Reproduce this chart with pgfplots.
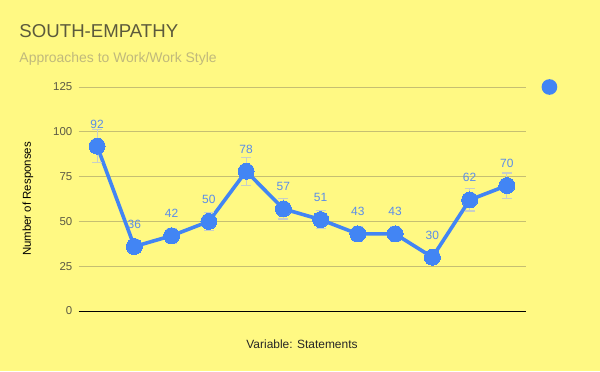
\documentclass[border=0pt]{standalone}
\usepackage{pgfplots}
\pgfplotsset{compat=1.18}
\usepackage{fontspec}
\setmainfont{Liberation Sans}
\definecolor{bgy}{HTML}{FFF983}
\definecolor{titlec}{HTML}{5C5A3C}
\definecolor{subc}{HTML}{C0B97C}
\definecolor{tickc}{HTML}{5C5A45}
\definecolor{gridc}{HTML}{C6BF72}
\definecolor{lineb}{HTML}{4285F4}
\definecolor{labb}{HTML}{5A8DEA}
\definecolor{errc}{HTML}{C8CFC8}
\begin{document}
\begin{tikzpicture}[x=1bp,y=1bp]
\fill[bgy] (0,0) rectangle (600,371);
\useasboundingbox (0,0) rectangle (600,371);
\node[anchor=base west, inner sep=0, text=titlec, font=\fontsize{18.7}{22}\selectfont] at (19.3,333.7) {SOUTH-EMPATHY};
\node[anchor=base west, inner sep=0, text=subc, font=\fontsize{14}{17}\selectfont] at (19.3,308.5) {Approaches to Work/Work Style};
\begin{axis}[
  at={(78.5bp,60bp)}, anchor=south west,
  width=447bp, height=224bp, scale only axis,
  xmin=0, xmax=12, ymin=0, ymax=125,
  axis line style={draw=none},
  xtick=\empty,
  ytick={0,25,50,75,100,125},
  ymajorgrids, grid style={gridc, line width=0.8bp},
  major tick length=0pt,
  /pgf/number format/assume math mode=true,
  yticklabel style={inner sep=0pt, xshift=-6bp, text=tickc, font=\fontsize{11.5}{13}\selectfont},
  ylabel={Number of Responses},
  every axis y label/.style={at={(rel axis cs:-0.113,0.5)}, rotate=90, anchor=center, font=\fontsize{11.5}{13}\selectfont, text=black},
  xlabel={Variable: Statements},
  every axis x label/.style={at={(rel axis cs:0.5,0)}, anchor=center, yshift=-33bp, font=\fontsize{12}{14}\selectfont, text=black!85},
  clip=false,
  legend style={at={(rel axis cs:1.058,1)}, anchor=center, draw=none, fill=none, inner sep=0pt},
  legend image code/.code={\fill[lineb] (0bp,0bp) circle (6bp);},
]
\draw[black, line width=1bp] (axis cs:0,0) -- (axis cs:12,0);
\addplot[lineb, line width=3.6bp, mark=*, mark size=8bp, mark options={fill=lineb, draw=lineb, line width=0pt},
  error bars/.cd, y dir=both, y explicit,
  error bar style={errc, line width=1.2bp},
  error mark options={rotate=90, mark size=5bp, errc, line width=1.2bp},
] coordinates {
(0.5,92) +- (0,9.2)
(1.5,36) +- (0,3.6)
(2.5,42) +- (0,4.2)
(3.5,50) +- (0,5.0)
(4.5,78) +- (0,7.8)
(5.5,57) +- (0,5.7)
(6.5,51) +- (0,5.1)
(7.5,43) +- (0,4.3)
(8.5,43) +- (0,4.3)
(9.5,30) +- (0,3.0)
(10.5,62) +- (0,6.2)
(11.5,70) +- (0,7.0)
};
\addlegendentry{}
\addplot[draw=none, mark=none, forget plot,
  nodes near coords, point meta=explicit symbolic,
  every node near coord/.style={anchor=base, inner sep=0pt, yshift=18bp, text=labb, font=\fontsize{12}{14}\selectfont},
] table[meta=v] {
x y v
0.5 92 92
1.5 36 36
2.5 42 42
3.5 50 50
4.5 78 78
5.5 57 57
6.5 51 51
7.5 43 43
8.5 43 43
9.5 30 30
10.5 62 62
11.5 70 70
};
\end{axis}
\end{tikzpicture}
\end{document}
